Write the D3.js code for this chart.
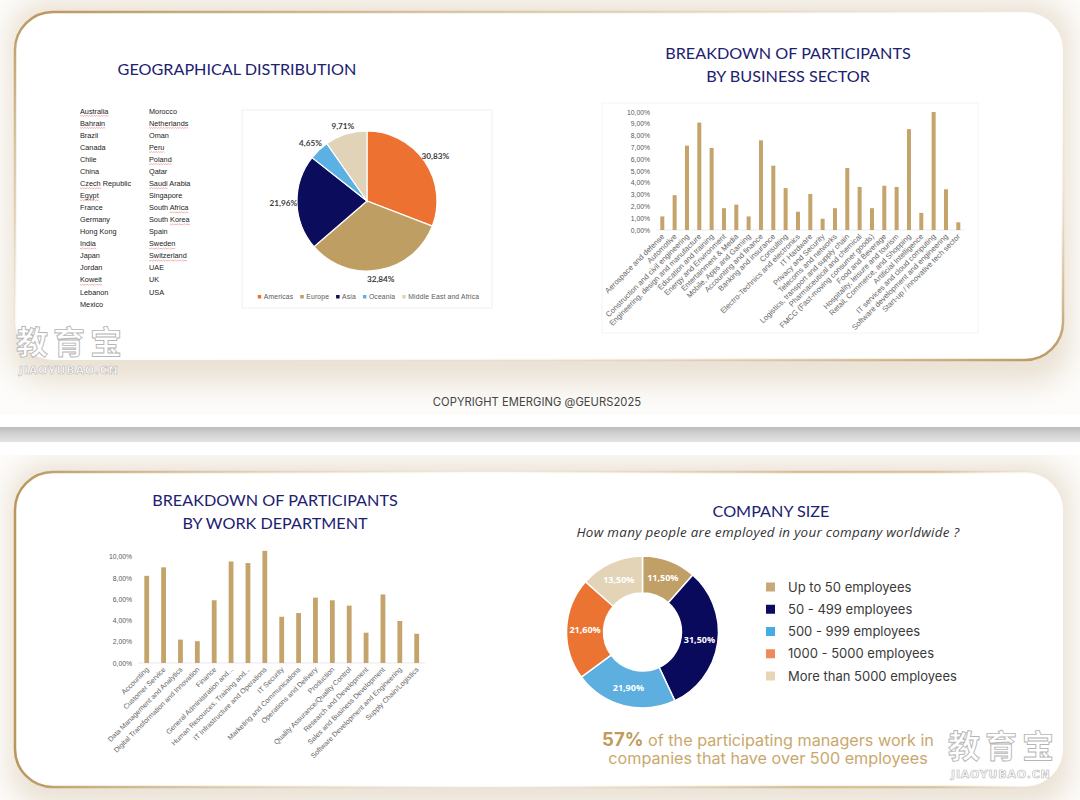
<!DOCTYPE html>
<html><head><meta charset="utf-8">
<script src="https://cdn.jsdelivr.net/npm/d3@7"></script>
<style>body{margin:0;background:#fff;} svg{display:block;}</style>
</head><body>
<svg id="c" width="1080" height="800"></svg>
<script>
// ---------------- DATA ----------------
const countriesCol1 = ["Australia","Bahrain","Brazil","Canada","Chile","China","Czech Republic","Egypt","France","Germany","Hong Kong","India","Japan","Jordan","Koweit","Lebanon","Mexico"];
const countriesCol2 = ["Morocco","Netherlands","Oman","Peru","Poland","Qatar","Saudi Arabia","Singapore","South Africa","South Korea","Spain","Sweden","Switzerland","UAE","UK","USA"];
const spellFlagged = {"Australia":"Australia","Bahrain":"Bahrain","Czech Republic":"Czech","Egypt":"Egypt","India":"India","Koweit":"Koweit","Netherlands":"Netherlands","Peru":"Peru","Poland":"Poland","Saudi Arabia":"Saudi","South Africa":"Africa","South Korea":"Korea","Sweden":"Sweden","Switzerland":"Switzerland"};

const regions = ["Americas","Europe","Asia","Oceania","Middle East and Africa"];
const regionShares = [30.83,32.84,21.96,4.65,9.71];
const regionColors = ["#ED7231","#BF9E64","#0C0C5C","#5BB1E3","#E1D3B7"];

const sectors = ["Aerospace and defense","Automotive","Construction and civil engineering","Engineering, design and manufacture","Education and training","Energy and Environment","Entertainment & Media","Mobile, Apps and Gaming","Accounting and finance","Banking and insurance","Consulting","Electro-Technics and electronics","IT Hardware","Privacy and Security","Telecoms and networks","Logistics, transport and supply chain","Pharmaceutical and chemical","FMCG (Fast-moving consumer goods)","Food and Beverage","Hospitality, leisure and tourism","Retail, Commerce, and Shopping","Artificial Intelligence","IT services and cloud computing","Software development and engineering","Start-up / innovative tech sector"];
const sectorShares = [1.15,2.95,7.15,9.1,6.95,1.85,2.15,1.15,7.6,5.45,3.55,1.55,3.05,0.95,1.85,5.25,3.65,1.85,3.75,3.65,8.55,1.45,10.0,3.45,0.65];
const sectorTicks = [0,1,2,3,4,5,6,7,8,9,10];

const departments = ["Accounting","Customer Service","Data Management and Analytics","Digital Transformation and Innovation","Finance","General Administration and...","Human Resources, Training and...","IT Infrastructure and Operations","IT Security","Marketing and Communications","Operations and Delivery","Production","Quality Assurance/Quality Control","Research and Development","Sales and Business Development","Software Development and Engineering","Supply Chain/Logistics"];
const departmentShares = [8.2,9.0,2.2,2.05,5.9,9.55,9.4,10.55,4.35,4.7,6.15,5.9,5.4,2.85,6.45,3.95,2.75];
const deptTicks = [0,2,4,6,8,10];

const sizeClasses = ["Up to 50 employees","50 - 499 employees","500 - 999 employees","1000 - 5000 employees","More than 5000 employees"];
const sizeShares = [11.5,31.5,21.9,21.6,13.5];
const sizeColors = ["#C1A068","#0A0A5C","#5DAFE0","#EC7432","#E3D4B8"];
const legendColors = ["#C8A878","#0B0B5F","#45ADE3","#F08A5D","#E8D5B4"];

const barColor = "#C4A46A";
const navy = "#1C2170";
const pct = v => d3.format(".2f")(v).replace(".", ",") + "%";

// ---------------- SVG ----------------
const svg = d3.select("#c");
const defs = svg.append("defs");
defs.append("filter").attr("id","blur").attr("x","-10%").attr("y","-30%").attr("width","120%").attr("height","160%")
  .append("feGaussianBlur").attr("stdDeviation",13);
const g1 = defs.append("linearGradient").attr("id","gold1").attr("x1",0).attr("y1",0).attr("x2",1).attr("y2",1);
[[0,"#b8965c",1],[0.3,"#d6c29c",0.6],[0.5,"#e8dcc6",0.0],[0.75,"#dcc7a0",0.2],[1,"#b8955a",1]].forEach(s=>
  g1.append("stop").attr("offset",s[0]).attr("stop-color",s[1]).attr("stop-opacity",s[2]));
const g2 = defs.append("linearGradient").attr("id","gold2").attr("x1",0).attr("y1",0).attr("x2",1).attr("y2",0);
[[0,"#b8965c",1],[0.25,"#d6c29c",0.5],[0.45,"#e8dcc6",0.1],[0.75,"#c9aa72",0.7],[0.88,"#c9aa72",0.6],[1,"#e8dcc6",0]].forEach(s=>
  g2.append("stop").attr("offset",s[0]).attr("stop-color",s[1]).attr("stop-opacity",s[2]));
const gb = defs.append("linearGradient").attr("id","band").attr("x1",0).attr("y1",0).attr("x2",0).attr("y2",1);
[[0,"#bdbdbd"],[0.5,"#d3d3d3"],[1,"#e2e2e2"]].forEach(s=>gb.append("stop").attr("offset",s[0]).attr("stop-color",s[1]));

svg.append("rect").attr("width",1080).attr("height",800).attr("fill","#fdfcfa");
svg.append("rect").attr("x",8).attr("y",0).attr("width",1064).attr("height",385).attr("rx",40)
  .attr("fill","#ebe2d5").attr("filter","url(#blur)");
svg.append("rect").attr("x",8).attr("y",462).attr("width",1064).attr("height",345).attr("rx",40)
  .attr("fill","#ebe2d5").attr("filter","url(#blur)");
svg.append("rect").attr("x",0).attr("y",415).attr("width",1080).attr("height",40).attr("fill","#ffffff");
svg.append("rect").attr("x",0).attr("y",427).attr("width",1080).attr("height",15).attr("fill","url(#band)");

svg.append("rect").attr("x",15).attr("y",12).attr("width",1048).attr("height",348).attr("rx",38)
  .attr("fill","#fff").attr("stroke","url(#gold1)").attr("stroke-width",2.5);
svg.append("rect").attr("x",15).attr("y",472).attr("width",1048).attr("height",315).attr("rx",38)
  .attr("fill","#fff").attr("stroke","url(#gold2)").attr("stroke-width",2.5);

svg.append("text").attr("x",537).attr("y",406).attr("text-anchor","middle")
  .attr("font-family","Inter, sans-serif").attr("font-size",11.2).attr("letter-spacing",0.05).attr("fill","#444")
  .text("COPYRIGHT EMERGING @GEURS2025");

// ---------------- Titles ----------------
function title(x, y, txt, size){
  svg.append("text").attr("x",x).attr("y",y).attr("text-anchor","middle")
    .attr("font-family","Lato, sans-serif").attr("font-size",size||16.2).attr("fill",navy).text(txt);
}
title(237,75,"GEOGRAPHICAL DISTRIBUTION");
title(788,59,"BREAKDOWN OF PARTICIPANTS");
title(788,82,"BY BUSINESS SECTOR");
title(275,506,"BREAKDOWN OF PARTICIPANTS");
title(275,529,"BY WORK DEPARTMENT");
title(771,517,"COMPANY SIZE");

// ---------------- Countries ----------------
const rowY = d3.scaleLinear().domain([0,16]).range([111,304]);
function countryCol(list, x){
  list.forEach((c,i)=>{
    const y = rowY(i)+2.6;
    const t = svg.append("text").attr("x",x).attr("y",y).attr("font-family","Liberation Sans, Arial, sans-serif")
      .attr("font-size",7.3).attr("fill","#222").text(c);
    const w = spellFlagged[c];
    if(w){
      const node = t.node();
      const start = c.indexOf(w);
      const x0 = x + (start>0 ? node.getSubStringLength(0,start) : 0);
      const x1 = x0 + node.getSubStringLength(start, w.length);
      let d = `M${x0},${y+1.8}`;
      for(let xx=x0, k=0; xx<x1; xx+=1.2, k++) d += `L${Math.min(xx+1.2,x1)},${y+1.8+(k%2?0:0.9)}`;
      svg.append("path").attr("d",d).attr("fill","none").attr("stroke","#e03b3b").attr("stroke-width",0.5).attr("opacity",0.8);
    }
  });
}
countryCol(countriesCol1, 80);
countryCol(countriesCol2, 149);

// ---------------- Geographic pie ----------------
svg.append("rect").attr("x",242).attr("y",110).attr("width",250).attr("height",198)
  .attr("fill","#fff").attr("stroke","#ececec").attr("stroke-width",0.8);
const pieG = svg.append("g").attr("transform","translate(367,201)");
const pie = d3.pie().sort(null).value(d=>d);
const arcsGeo = pie(regionShares);
pieG.selectAll("path").data(arcsGeo).join("path")
  .attr("d", d3.arc().innerRadius(0).outerRadius(70))
  .attr("fill",(d,i)=>regionColors[i]).attr("stroke","#fff").attr("stroke-width",1.2);
const labelArc = d3.arc().innerRadius(79).outerRadius(79);
pieG.selectAll("text").data(arcsGeo).join("text")
  .attr("transform", d=>{ const c = labelArc.centroid(d); return `translate(${c[0]*(1+0.06*Math.abs(Math.sin((d.startAngle+d.endAngle)/2)))-0},${c[1]})`; })
  .attr("text-anchor","middle").attr("dy","0.35em")
  .attr("font-family","Lato, sans-serif").attr("font-weight","bold").attr("font-size",8.2).attr("fill","#404040")
  .text(d=>pct(d.data));
// legend
const legG = svg.append("g");
let lx = 0;
regions.forEach((r,i)=>{
  legG.append("rect").attr("x",lx).attr("y",-2).attr("width",3.5).attr("height",3.5).attr("fill",regionColors[i]);
  const t = legG.append("text").attr("x",lx+6).attr("y",2.3).attr("font-family","Liberation Sans, Arial, sans-serif")
    .attr("font-size",6.8).attr("letter-spacing",0.15).attr("fill","#595959").text(r);
  lx += 6 + t.node().getComputedTextLength() + 7;
});
legG.attr("transform",`translate(${368.5-(lx-7)/2},297)`);

// ---------------- Sector bar chart ----------------
svg.append("rect").attr("x",602).attr("y",103).attr("width",376).attr("height",230)
  .attr("fill","#fff").attr("stroke","#efefef").attr("stroke-width",0.8);
const xS = d3.scalePoint().domain(sectors).range([662.3,958.3]);
const yS = d3.scaleLinear().domain([0,10]).range([230,112]);
const axS = svg.append("g").attr("transform","translate(653,0)")
  .call(d3.axisLeft(yS).tickValues(sectorTicks).tickSize(0).tickPadding(3).tickFormat(pct));
axS.select(".domain").remove();
axS.selectAll("text").attr("font-family","Liberation Sans, Arial, sans-serif").attr("font-size",6.8).attr("fill","#595959");
svg.append("line").attr("x1",656).attr("x2",965).attr("y1",230).attr("y2",230).attr("stroke","#e4e4e4").attr("stroke-width",0.7);
svg.selectAll(".bs").data(sectors).join("rect").attr("class","bs")
  .attr("x",d=>xS(d)-2).attr("width",4)
  .attr("y",(d,i)=>yS(sectorShares[i])).attr("height",(d,i)=>yS(0)-yS(sectorShares[i]))
  .attr("fill",barColor);
svg.selectAll(".ls").data(sectors).join("text").attr("class","ls")
  .attr("transform",d=>`translate(${xS(d)+2.5},237) rotate(-45)`)
  .attr("text-anchor","end").attr("font-family","Liberation Sans, Arial, sans-serif")
  .attr("font-size",7.6).attr("fill","#666").text(d=>d);

// ---------------- Department bar chart ----------------
const xD = d3.scalePoint().domain(departments).range([146.7,416.7]);
const yD = d3.scaleLinear().domain([0,10]).range([663,556.7]);
const axD = svg.append("g").attr("transform","translate(135,0)")
  .call(d3.axisLeft(yD).tickValues(deptTicks).tickSize(0).tickPadding(3).tickFormat(pct));
axD.select(".domain").remove();
axD.selectAll("text").attr("font-family","Liberation Sans, Arial, sans-serif").attr("font-size",6.8).attr("fill","#595959");
svg.append("line").attr("x1",138).attr("x2",425).attr("y1",663).attr("y2",663).attr("stroke","#e0e0e0").attr("stroke-width",0.7);
svg.selectAll(".bd").data(departments).join("rect").attr("class","bd")
  .attr("x",d=>xD(d)-2.4).attr("width",4.8)
  .attr("y",(d,i)=>yD(departmentShares[i])).attr("height",(d,i)=>yD(0)-yD(departmentShares[i]))
  .attr("fill",barColor);
svg.selectAll(".ld").data(departments).join("text").attr("class","ld")
  .attr("transform",d=>`translate(${xD(d)+2.5},670) rotate(-45)`)
  .attr("text-anchor","end").attr("font-family","Liberation Sans, Arial, sans-serif")
  .attr("font-size",7.1).attr("fill","#666").text(d=>d);

// ---------------- Company size donut ----------------
svg.append("text").attr("x",768).attr("y",537).attr("text-anchor","middle")
  .attr("font-family","Open Sans, sans-serif").attr("font-style","italic").attr("font-size",13.4).attr("letter-spacing",0.3).attr("fill","#333")
  .text("How many people are employed in your company worldwide ?");
const dG = svg.append("g").attr("transform","translate(642.5,632)");
const arcsSize = pie(sizeShares);
const dArc = d3.arc().innerRadius(39).outerRadius(76);
dG.selectAll("path").data(arcsSize).join("path").attr("d",dArc)
  .attr("fill",(d,i)=>sizeColors[i]).attr("stroke","#fff").attr("stroke-width",1.5);
dG.selectAll("text").data(arcsSize).join("text")
  .attr("transform",d=>`translate(${dArc.centroid(d)})`).attr("text-anchor","middle").attr("dy","0.35em")
  .attr("font-family","Open Sans, sans-serif").attr("font-weight","bold").attr("font-size",9).attr("fill","#fff")
  .text(d=>pct(d.data));
const lgY = d3.scaleLinear().domain([0,4]).range([587,676]);
sizeClasses.forEach((s,i)=>{
  svg.append("rect").attr("x",766).attr("y",lgY(i)-4.5).attr("width",9).attr("height",9).attr("fill",legendColors[i]);
  svg.append("text").attr("x",788).attr("y",lgY(i)+4.5).attr("font-family","Inter, sans-serif")
    .attr("font-size",13).attr("fill","#3a3a3a").text(s);
});
const note = svg.append("text").attr("text-anchor","middle").attr("font-family","Inter, sans-serif").attr("font-size",16.2).attr("fill","#C9A86E");
note.append("tspan").attr("x",768).attr("y",746).attr("font-weight","bold").attr("font-size",18.5).attr("fill","#C09A5A").text("57%");
note.append("tspan").text(" of the participating managers work in");
note.append("tspan").attr("x",768).attr("y",764).text("companies that have over 500 employees");

// ---------------- Watermarks ----------------
function watermark(x, y){
  svg.append("text").attr("x",x).attr("y",y).attr("font-family","Noto Sans CJK SC, sans-serif").attr("font-weight","bold")
    .attr("font-size",32).attr("letter-spacing",5).attr("fill","#fff").attr("stroke","#b5b5b5").attr("stroke-width",0.9).text("教育宝");
  svg.append("text").attr("x",x+3).attr("y",y+20).attr("font-family","DejaVu Sans, sans-serif").attr("font-weight","bold")
    .attr("font-size",11).attr("letter-spacing",0.8).attr("fill","#fff").attr("stroke","#b5b5b5").attr("stroke-width",0.6).text("JIAOYUBAO.CN");
}
watermark(16,354);
watermark(948,758);
</script>
</body></html>
